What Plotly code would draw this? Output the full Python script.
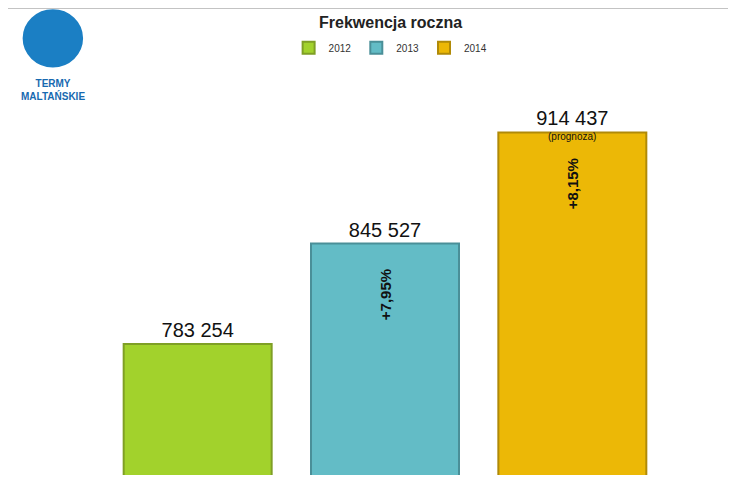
import plotly.graph_objects as go

years = ["2012", "2013", "2014"]
values = [783254, 845527, 914437]
labels = ["783 254", "845 527", "914 437"]
growth = ["", "+7,95%", "+8,15%"]
colors = ["#a2d22c", "#63bcc6", "#ecb806"]
edges = ["#7f9f25", "#4a8f98", "#b08a08"]

fig = go.Figure()
for i in range(3):
    fig.add_trace(go.Bar(x=[i], y=[values[i]], name=years[i], width=0.79,
                         marker=dict(color=colors[i], line=dict(color=edges[i], width=2)),
                         text=[labels[i]], textposition="outside",
                         textfont=dict(size=20, color="#111", family="Liberation Sans"),
                         cliponaxis=False))
    if growth[i]:
        fig.add_annotation(x=i, y=values[i] - 32000, text="<b>" + growth[i] + "</b>", textangle=-90,
                           showarrow=False, font=dict(size=15, color="#111", family="Liberation Sans"))
fig.add_annotation(x=2, y=values[2], yshift=-4, text="(prognoza)", showarrow=False,
                   font=dict(size=10, color="#111", family="Liberation Sans"))

fig.add_annotation(x=0.51, y=1.0, xref="paper", yref="paper", yshift=-4, text="<b>Frekwencja roczna</b>",
                   showarrow=False, font=dict(size=16, color="#222", family="Liberation Sans"), yanchor="top")
fig.add_annotation(x=-0.091, y=0.855, xref="paper", yref="paper", text="<b>TERMY<br>MALTAŃSKIE</b>",
                   showarrow=False, font=dict(size=10, color="#1769b0", family="Liberation Sans"),
                   xanchor="center")
fig.add_shape(type="circle", xref="paper", yref="paper", x0=-0.143, x1=-0.039, y0=0.875, y1=0.995,
              fillcolor="#1b7fc4", line=dict(color="#1b7fc4"))
fig.add_shape(type="line", xref="paper", yref="paper", x0=-0.18, x1=1.15, y0=1, y1=1,
              line=dict(color="#888", width=1))

fig.update_layout(
    width=736, height=483, plot_bgcolor="white", paper_bgcolor="white",
    margin=dict(l=96, r=78, t=0, b=16), bargap=0.21,
    legend=dict(orientation="h", x=0.51, xanchor="center", y=0.915, yanchor="middle",
                font=dict(size=10, family="Liberation Sans", color="#333"), itemwidth=30),
    xaxis=dict(range=[-0.5, 2.5], visible=False),
    yaxis=dict(range=[702000, 991600], visible=False),
)
fig.write_html("out.html")
